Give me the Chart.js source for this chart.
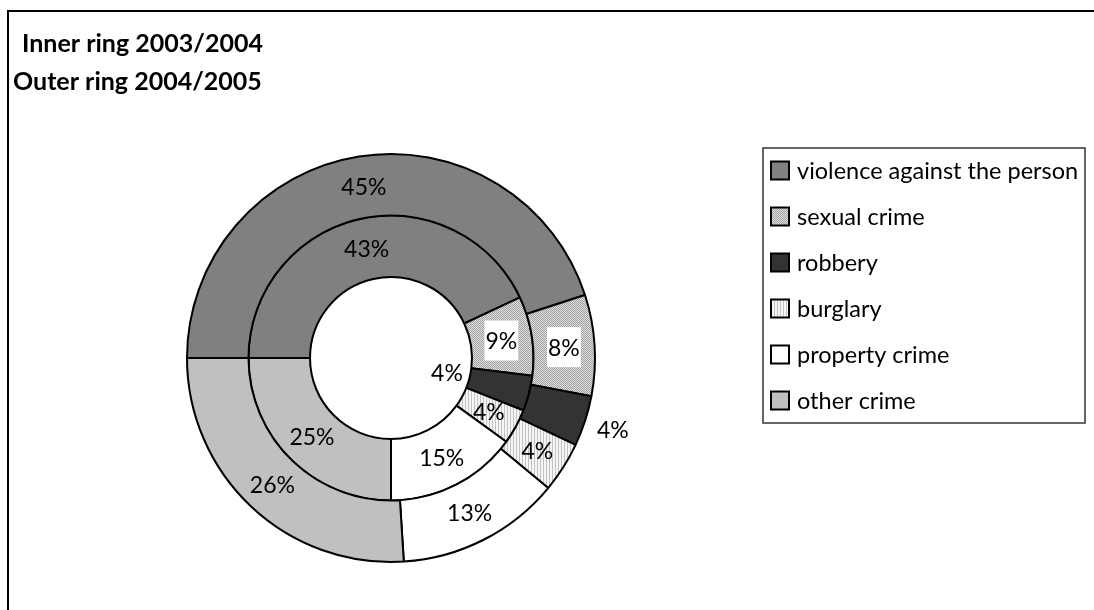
<!DOCTYPE html>
<html lang="en">
<head>
<meta charset="UTF-8" />
<title>Crime by type, 2003/2004 and 2004/2005</title>
<script src="https://cdn.jsdelivr.net/npm/chart.js"></script>
<style>
  html, body { margin: 0; padding: 0; background: #fff; }
  canvas { display: block; }
</style>
</head>
<body>
<canvas id="crimeChart" width="1094" height="610"></canvas>
<script>
  // data
  const categories = ['violence against the person', 'sexual crime', 'robbery', 'burglary', 'property crime', 'other crime'];
  const share0405 = [45, 8, 4, 4, 13, 26];   // outer ring
  const share0304 = [43, 9, 4, 4, 15, 25];   // inner ring
  const titleLines = ['Inner ring 2003/2004', 'Outer ring 2004/2005'];

  const ctx = document.getElementById('crimeChart').getContext('2d');
  const FONT = 'Lato, "Open Sans", sans-serif';

  function makePattern(w, h, paint) {
    const c = document.createElement('canvas');
    c.width = w; c.height = h;
    paint(c.getContext('2d'));
    return ctx.createPattern(c, 'repeat');
  }

  const dotted = makePattern(2, 2, g => {
    g.fillStyle = '#e0e0e0'; g.fillRect(0, 0, 2, 2);
    g.fillStyle = '#a0a0a0'; g.fillRect(0, 0, 1, 1); g.fillRect(1, 1, 1, 1);
  });
  const striped = makePattern(3, 1, g => {
    g.fillStyle = '#f6f6f6'; g.fillRect(0, 0, 3, 1);
    g.fillStyle = '#c2c2c2'; g.fillRect(0, 0, 1, 1);
  });
  const fills = ['#808080', dotted, '#333333', striped, '#ffffff', '#c0c0c0'];

  // label tweaks: radial shift for the thin robbery slices, white box behind the sexual crime labels
  const labelShift = [[0, 0, 60, 0, 0, 0], [0, 0, -54, 0, 0, 0]];
  const labelBox = [[false, true, false, false, false, false], [false, true, false, false, false, false]];

  const decor = {
    id: 'decor',
    beforeDraw(chart) {
      const c = chart.ctx;
      c.save();
      c.strokeStyle = '#000';
      c.lineWidth = 2;
      c.beginPath();
      c.moveTo(8, 610); c.lineTo(8, 11); c.lineTo(1094, 11);
      c.stroke();
      c.fillStyle = '#000';
      c.font = 'bold 25px ' + FONT;
      c.textBaseline = 'alphabetic';
      c.fillText(titleLines[0], 22, 52);
      c.fillText(titleLines[1], 13, 90);
      c.restore();
    },
    afterDatasetsDraw(chart) {
      const c = chart.ctx;
      c.save();
      c.font = '23px ' + FONT;
      c.textAlign = 'center';
      c.textBaseline = 'middle';
      chart.data.datasets.forEach((ds, di) => {
        chart.getDatasetMeta(di).data.forEach((arc, i) => {
          const p = arc.getProps(['x', 'y', 'startAngle', 'endAngle', 'innerRadius', 'outerRadius'], true);
          const mid = (p.startAngle + p.endAngle) / 2;
          const r = (p.innerRadius + p.outerRadius) / 2 + labelShift[di][i];
          const x = p.x + r * Math.cos(mid);
          const y = p.y + r * Math.sin(mid);
          const txt = ds.data[i] + '%';
          if (labelBox[di][i]) {
            const w = c.measureText(txt).width;
            c.fillStyle = '#fff';
            c.fillRect(x - w / 2 - 1, y - 20, w + 2, 40);
          }
          c.fillStyle = '#000';
          c.fillText(txt, x, y + 1);
        });
      });
      c.restore();
    },
    afterDraw(chart) {
      const c = chart.ctx;
      c.save();
      c.strokeStyle = '#333';
      c.lineWidth = 1.5;
      c.strokeRect(763, 148, 322, 275);
      c.font = '23.5px ' + FONT;
      c.textBaseline = 'middle';
      categories.forEach((name, i) => {
        const y = 170.5 + i * 46;
        c.fillStyle = fills[i];
        c.fillRect(771, y - 9, 18, 18);
        c.strokeStyle = '#000';
        c.lineWidth = 2;
        c.strokeRect(771, y - 9, 18, 18);
        c.fillStyle = '#000';
        c.fillText(name, 797, y + 1);
      });
      c.restore();
    }
  };

  new Chart(ctx, {
    type: 'doughnut',
    data: {
      labels: categories,
      datasets: [
        { label: '2004/2005', data: share0405, backgroundColor: fills, borderColor: '#000', borderWidth: 2, hoverOffset: 0 },
        { label: '2003/2004', data: share0304, backgroundColor: fills, borderColor: '#000', borderWidth: 2, hoverOffset: 0 }
      ]
    },
    options: {
      responsive: false,
      animation: false,
      events: [],
      rotation: -90,
      cutout: '39.7%',
      layout: { padding: { left: 186, top: 153, right: 498, bottom: 47 } },
      plugins: {
        legend: { display: false },
        tooltip: { enabled: false }
      }
    },
    plugins: [decor]
  });
</script>
</body>
</html>
